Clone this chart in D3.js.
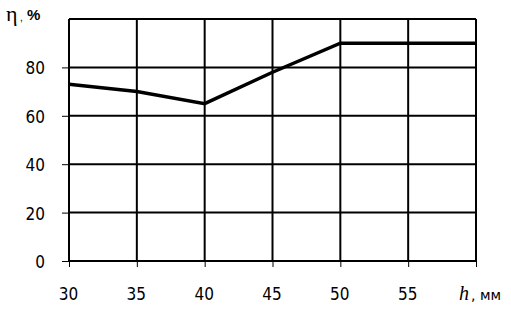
<!DOCTYPE html>
<html>
<head>
<meta charset="utf-8">
<script src="https://cdn.jsdelivr.net/npm/d3@7"></script>
<style>
  body { margin: 0; background: #fff; }
  svg { display: block; }
  .tick text { font-family: "Liberation Sans Narrow", "DejaVu Sans Condensed", sans-serif; font-stretch: condensed; font-size: 17px; fill: #000; }
</style>
</head>
<body>
<script>
// data
var hValues = [30, 35, 40, 45, 50, 55, 60];
var etaValues = [73, 70, 65, 78, 90, 90, 90];
var xTicks = [30, 35, 40, 45, 50, 55];
var yTicks = [0, 20, 40, 60, 80];

var width = 511, height = 309;
var margin = {top: 19, right: 35, bottom: 48, left: 69};

var svg = d3.select("body").append("svg")
    .attr("width", width)
    .attr("height", height);

var x = d3.scaleLinear().domain([30, 60]).range([margin.left, width - margin.right]);
var y = d3.scaleLinear().domain([0, 100]).range([height - margin.bottom, margin.top]);

// grid
svg.append("g").selectAll("line")
    .data(d3.range(30, 61, 5))
  .enter().append("line")
    .attr("x1", d => x(d)).attr("x2", d => x(d))
    .attr("y1", y(0)).attr("y2", y(100))
    .attr("stroke", "#000").attr("stroke-width", 2);

svg.append("g").selectAll("line")
    .data(d3.range(0, 101, 20))
  .enter().append("line")
    .attr("x1", x(30)).attr("x2", x(60))
    .attr("y1", d => y(d)).attr("y2", d => y(d))
    .attr("stroke", "#000").attr("stroke-width", 2);

// axes (ticks outside)
var xAxis = d3.axisBottom(x).tickValues(xTicks.concat([60])).tickSize(6)
    .tickFormat(d => d === 60 ? "" : d);
svg.append("g")
    .attr("transform", "translate(0," + y(0) + ")")
    .call(xAxis)
    .call(g => g.select(".domain").remove())
    .call(g => g.selectAll(".tick line").attr("stroke", "#000"))
    .call(g => g.selectAll(".tick text").attr("y", 39).attr("dy", null).attr("dx", -1));

var yAxis = d3.axisLeft(y).tickValues(yTicks).tickSize(7).tickPadding(17);
svg.append("g")
    .attr("transform", "translate(" + x(30) + ",0)")
    .call(yAxis)
    .call(g => g.select(".domain").remove())
    .call(g => g.selectAll(".tick line").attr("stroke", "#000"))
    .call(g => g.selectAll(".tick text").attr("x", -24).attr("dy", "0.38em"));

// curve
var line = d3.line().x((d, i) => x(hValues[i])).y(d => y(d));
svg.append("path")
    .datum(etaValues)
    .attr("d", line)
    .attr("fill", "none")
    .attr("stroke", "#000")
    .attr("stroke-width", 3.5)
    .attr("stroke-linejoin", "miter");

// axis labels
var yl = svg.append("g");
yl.append("text").attr("x", 6).attr("y", 21)
    .attr("font-family", "Liberation Serif, serif").attr("font-size", 22).text("η");
yl.append("text").attr("x", 20).attr("y", 21)
    .attr("font-family", "Liberation Sans, sans-serif").attr("font-size", 10).text(",");
yl.append("text").attr("x", 27).attr("y", 20)
    .attr("font-family", "Liberation Sans, sans-serif").attr("font-weight", "bold").attr("font-size", 15).text("%");

var xl = svg.append("g");
xl.append("text").attr("x", 459).attr("y", 300)
    .attr("font-family", "Liberation Serif, serif").attr("font-style", "italic").attr("font-size", 20).text("h");
xl.append("text").attr("x", 471).attr("y", 300)
    .attr("font-family", "DejaVu Sans, sans-serif").attr("font-size", 14).text(",");
xl.append("text").attr("x", 480).attr("y", 300)
    .attr("font-family", "DejaVu Sans, sans-serif").attr("font-size", 14).text("мм");
</script>
</body>
</html>
